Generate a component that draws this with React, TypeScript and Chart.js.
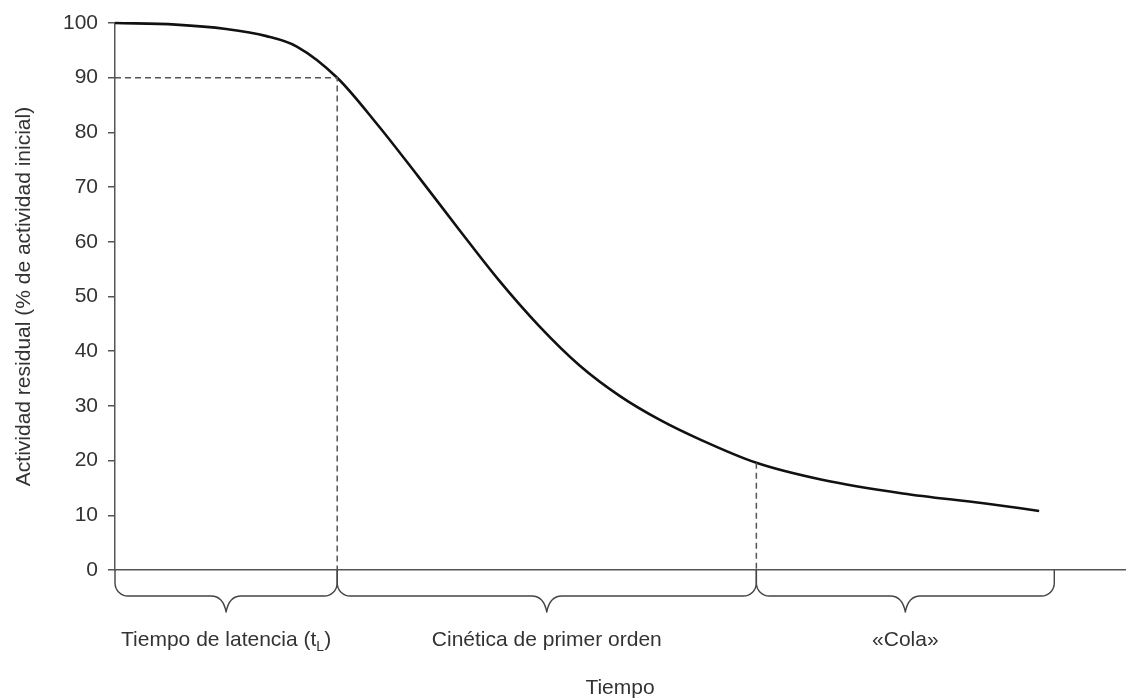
import { useEffect, useRef } from 'react';
import { Chart, registerables, type ChartConfiguration, type Plugin } from 'chart.js';

Chart.register(...registerables);

// Curva de inactivación (tiempo en unidades arbitrarias, actividad en %)
const tiempo = [0, 6, 11, 15, 18, 22, 26, 30, 34, 38, 42, 46, 50, 54, 58, 63.5, 70, 78, 86, 91.5];
const actividad = [100, 99.7, 98.9, 97.6, 95.7, 90, 81.4, 72, 62.4, 53, 44.6, 37.4, 31.8, 27.4, 23.8, 19.6, 16.5, 14, 12.2, 10.8];

const T_LATENCIA = 22;
const T_COLA = 63.5;
const ACT_LATENCIA = 90;
const ACT_COLA = 19.6;

// fases marcadas con llaves bajo el eje
const faseInicio = [0, T_LATENCIA, T_COLA];
const faseFin = [T_LATENCIA, T_COLA, 93];
const faseTexto = ['Tiempo de latencia (t', 'Cinética de primer orden', '«Cola»'];
const faseSub = ['L', '', ''];
const faseCierre = [')', '', ''];

const FONT = '"Liberation Sans", Arial, Helvetica, sans-serif';
const TEXT = '#333';

function llave(ctx: CanvasRenderingContext2D, x0: number, x1: number, y: number) {
  const h1 = 26, h2 = 42, r = 13;
  const xm = (x0 + x1) / 2;
  ctx.beginPath();
  ctx.moveTo(x0, y);
  ctx.lineTo(x0, y + h1 - r);
  ctx.arcTo(x0, y + h1, x0 + r, y + h1, r);
  ctx.lineTo(xm - 15, y + h1);
  ctx.quadraticCurveTo(xm - 3, y + h1, xm, y + h2);
  ctx.quadraticCurveTo(xm + 3, y + h1, xm + 15, y + h1);
  ctx.lineTo(x1 - r, y + h1);
  ctx.arcTo(x1, y + h1, x1, y + h1 - r, r);
  ctx.lineTo(x1, y);
  ctx.stroke();
}

const fasesPlugin: Plugin = {
  id: 'fases',
  afterDraw(chart) {
    const { ctx, chartArea, scales } = chart;
    const x = scales.x;
    const y0 = chartArea.bottom;
    ctx.save();
    ctx.strokeStyle = '#444';
    ctx.lineWidth = 1.4;
    ctx.lineJoin = 'round';
    faseInicio.forEach((t, i) => {
      llave(ctx, x.getPixelForValue(t), x.getPixelForValue(faseFin[i]), y0);
    });

    ctx.fillStyle = TEXT;
    ctx.textBaseline = 'alphabetic';
    ctx.textAlign = 'left';
    const base = y0 + 76;
    faseTexto.forEach((txt, i) => {
      const cx = (x.getPixelForValue(faseInicio[i]) + x.getPixelForValue(faseFin[i])) / 2;
      ctx.font = `21px ${FONT}`;
      const w1 = ctx.measureText(txt).width;
      const w3 = ctx.measureText(faseCierre[i]).width;
      ctx.font = `14px ${FONT}`;
      const w2 = ctx.measureText(faseSub[i]).width;
      let sx = cx - (w1 + w2 + w3) / 2;
      ctx.font = `21px ${FONT}`;
      ctx.fillText(txt, sx, base);
      sx += w1;
      if (faseSub[i]) {
        ctx.font = `14px ${FONT}`;
        ctx.fillText(faseSub[i], sx, base + 5);
        sx += w2;
      }
      if (faseCierre[i]) {
        ctx.font = `21px ${FONT}`;
        ctx.fillText(faseCierre[i], sx, base);
      }
    });
    ctx.restore();
  },
};

export default function App() {
  const canvasRef = useRef<HTMLCanvasElement>(null);
  const chartRef = useRef<Chart | null>(null);

  useEffect(() => {
    if (!canvasRef.current) return;
    chartRef.current?.destroy();

    const dash = {
      borderColor: '#555',
      borderWidth: 1.5,
      borderDash: [6, 4],
      pointRadius: 0,
      tension: 0,
      fill: false,
      clip: false as const,
    };

    const config: ChartConfiguration<'line', { x: number; y: number }[]> = {
      type: 'line',
      data: {
        datasets: [
          {
            ...dash,
            data: [
              { x: 0, y: ACT_LATENCIA },
              { x: T_LATENCIA, y: ACT_LATENCIA },
              { x: T_LATENCIA, y: 0 },
            ],
          },
          {
            ...dash,
            data: [
              { x: T_COLA, y: ACT_COLA },
              { x: T_COLA, y: 0 },
            ],
          },
          {
            data: tiempo.map((t, i) => ({ x: t, y: actividad[i] })),
            borderColor: '#111',
            borderWidth: 2.6,
            pointRadius: 0,
            cubicInterpolationMode: 'monotone',
            fill: false,
            clip: false,
          },
        ],
      },
      options: {
        animation: false,
        responsive: true,
        maintainAspectRatio: false,
        layout: { padding: { top: 23, right: 5, left: 0, bottom: 0 } },
        plugins: { legend: { display: false }, tooltip: { enabled: false } },
        scales: {
          x: {
            type: 'linear',
            min: 0,
            max: 100,
            grid: { display: false },
            border: { color: '#555', width: 1.5 },
            ticks: { display: false },
            title: {
              display: true,
              text: 'Tiempo',
              color: TEXT,
              font: { family: FONT, size: 21, lineHeight: 1 },
              padding: 0,
            },
            afterFit: (s) => { s.height = 129; },
          },
          y: {
            min: 0,
            max: 100,
            grid: { drawOnChartArea: false, tickLength: 7, color: '#555', lineWidth: 1.5 },
            border: { color: '#555', width: 1.5 },
            ticks: {
              stepSize: 10,
              padding: 10,
              color: TEXT,
              font: { family: FONT, size: 21 },
            },
            title: {
              display: true,
              text: 'Actividad residual (% de actividad inicial)',
              color: TEXT,
              font: { family: FONT, size: 21 },
              padding: { top: 12, bottom: 0 },
            },
            afterFit: (s) => { s.width = 115; },
          },
        },
      },
      plugins: [fasesPlugin],
    };
    chartRef.current = new Chart(canvasRef.current, config);

    return () => { chartRef.current?.destroy(); chartRef.current = null; };
  }, []);

  return (
    <div style={{ position: 'absolute', left: 0, top: 0, width: 1130, height: 699, background: '#fff' }}>
      <canvas ref={canvasRef} />
    </div>
  );
}
